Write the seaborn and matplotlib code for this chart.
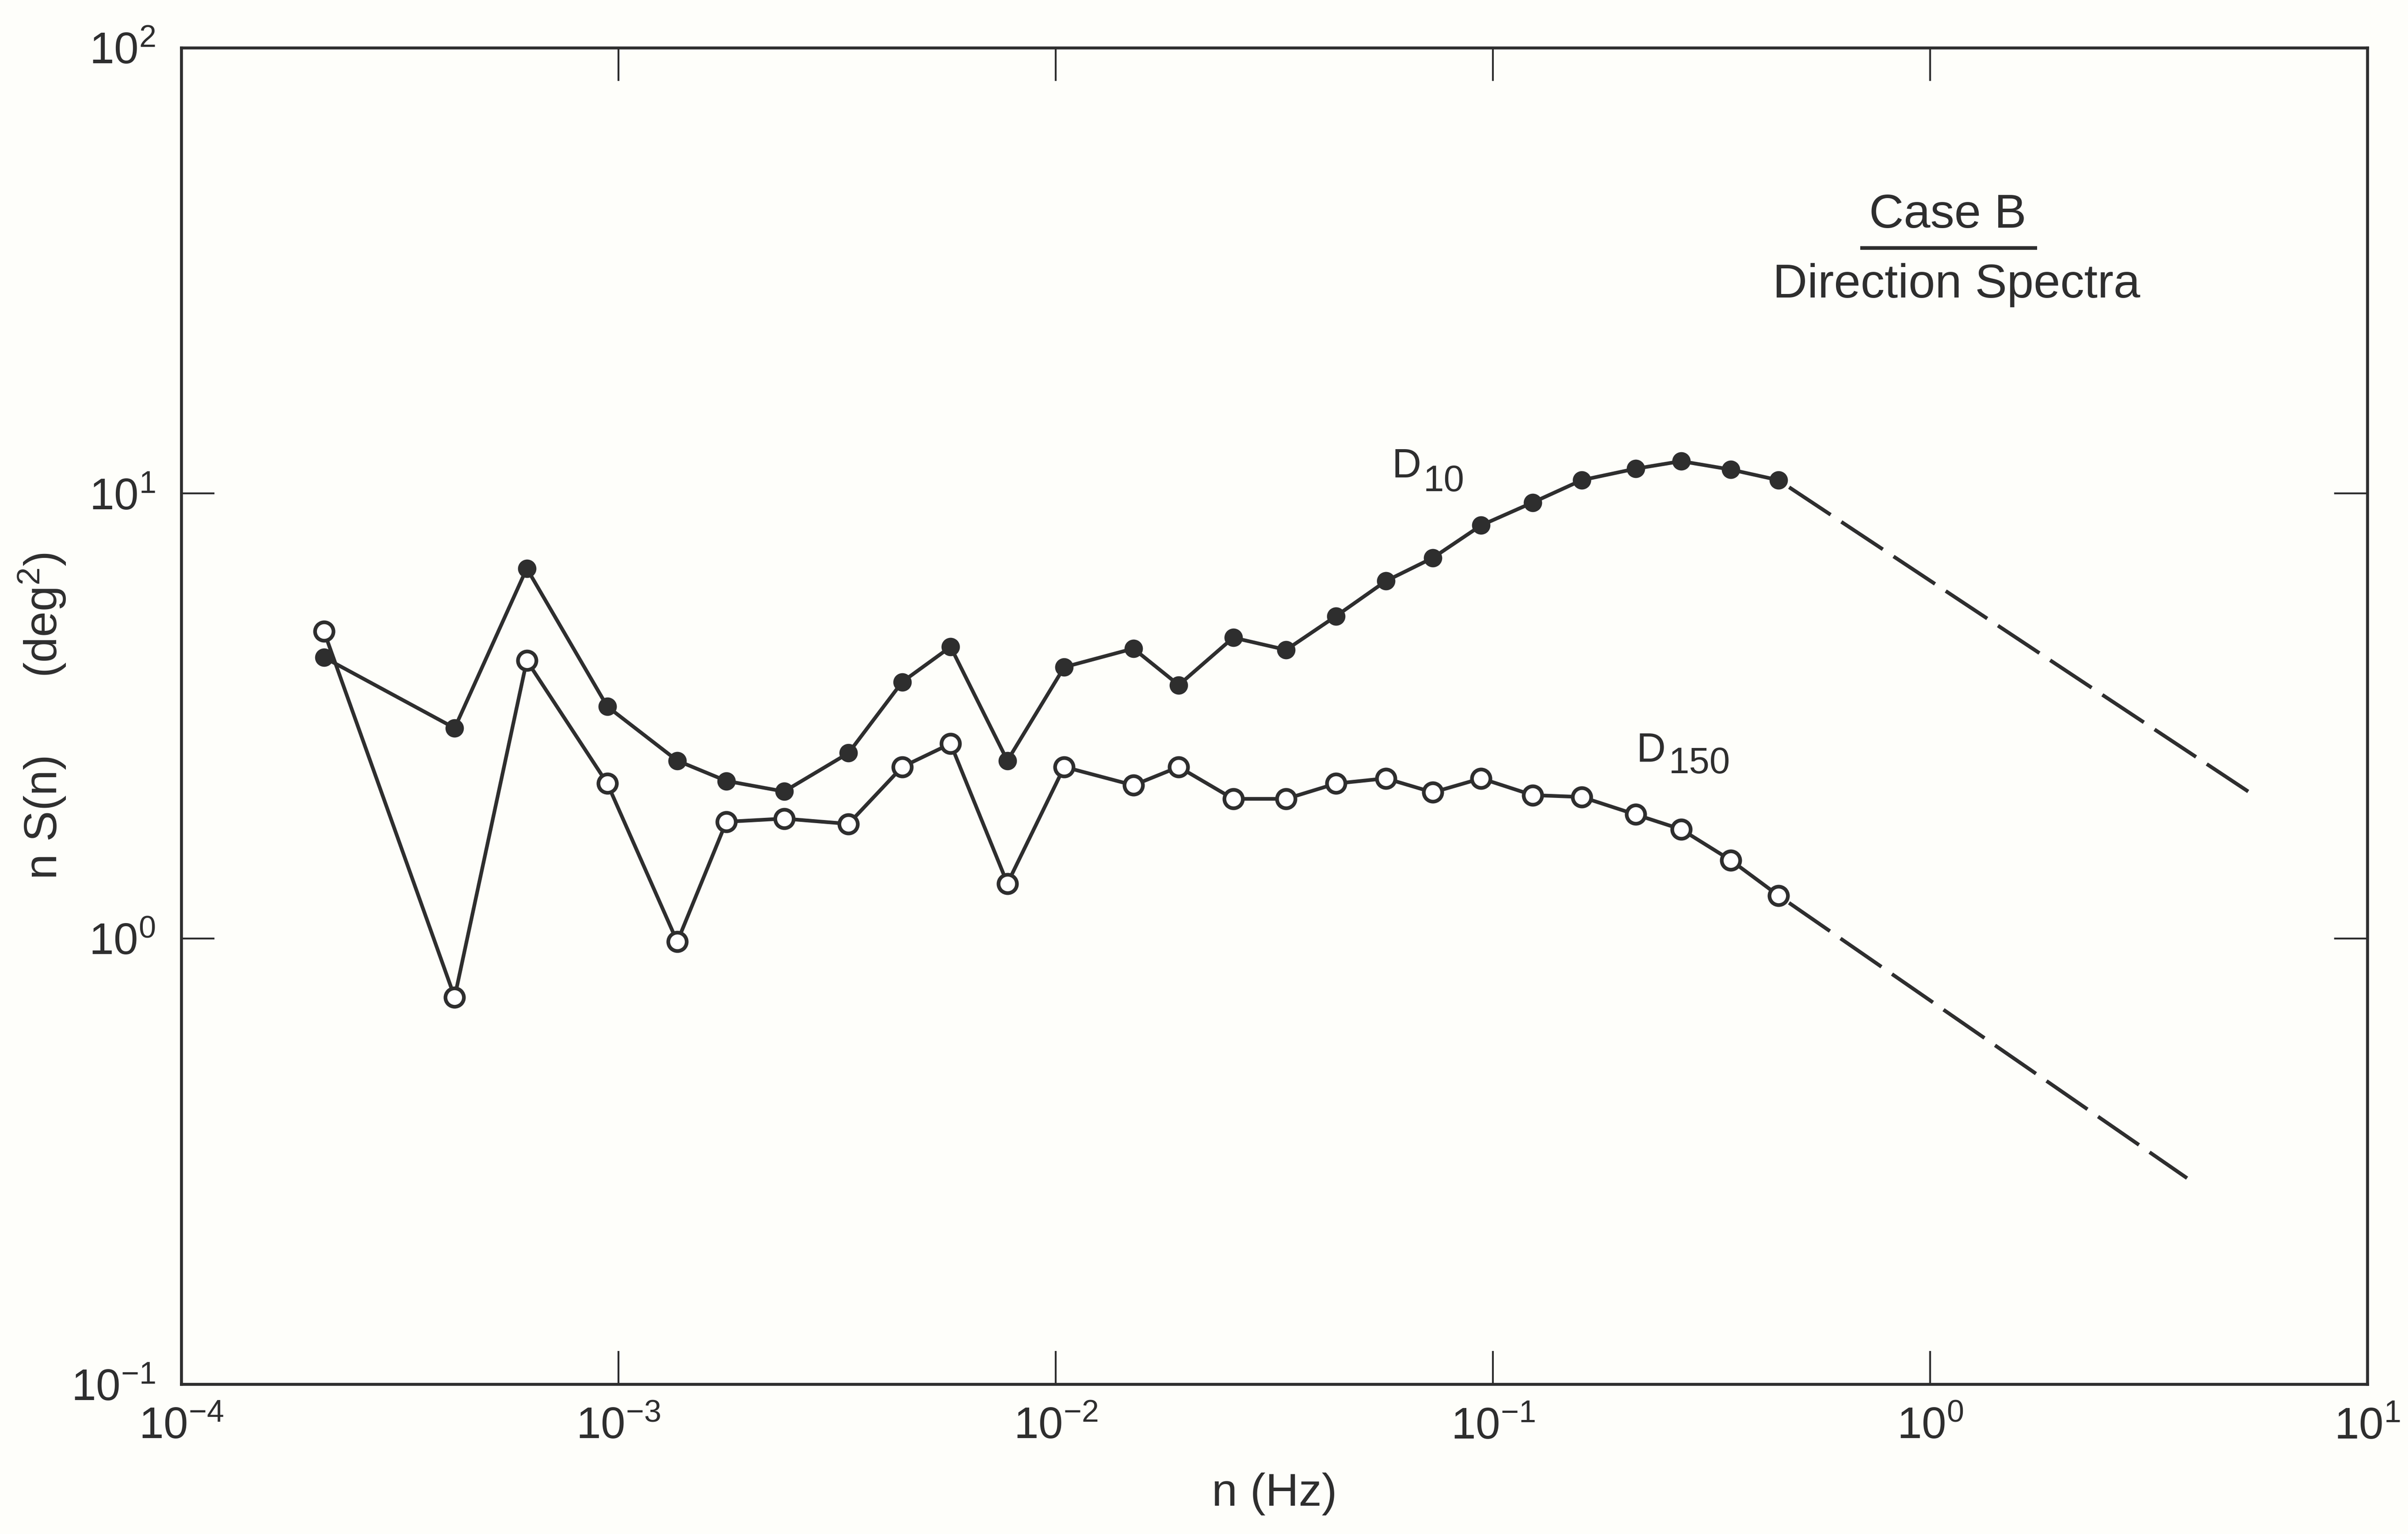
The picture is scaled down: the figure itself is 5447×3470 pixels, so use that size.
import numpy as np
import pandas as pd
import matplotlib
matplotlib.use("Agg")
import matplotlib.pyplot as plt
import matplotlib.ticker as mticker
import seaborn as sns

# ---------------- data ----------------
freq_hz = [2.12e-4, 4.22e-4, 6.17e-4, 9.43e-4, 1.363e-3, 1.765e-3, 2.392e-3,
           3.358e-3, 4.457e-3, 5.75e-3, 7.755e-3, 1.046e-2, 1.506e-2, 1.912e-2,
           2.547e-2, 3.366e-2, 4.38e-2, 5.69e-2, 7.29e-2, 9.40e-2, 0.1233,
           0.1597, 0.2120, 0.2695, 0.350, 0.4498]
d10_values = [4.28, 2.97, 6.78, 3.32, 2.51, 2.26, 2.14, 2.61, 3.77, 4.52,
              2.51, 4.07, 4.48, 3.71, 4.74, 4.45, 5.30, 6.35, 7.16, 8.47,
              9.53, 10.7, 11.35, 11.8, 11.3, 10.7]
d150_values = [4.90, 0.739, 4.21, 2.23, 0.984, 1.83, 1.86, 1.81, 2.43, 2.74,
               1.33, 2.43, 2.21, 2.43, 2.06, 2.06, 2.23, 2.29, 2.13, 2.29,
               2.10, 2.08, 1.90, 1.76, 1.50, 1.25]
d10_tail_freq = [0.4498, 5.34]
d10_tail_values = [10.7, 2.14]
d150_tail_freq = [0.4498, 3.87]
d150_tail_values = [1.25, 0.29]
x_ticks = [1e-4, 1e-3, 1e-2, 1e-1, 1e0, 1e1]
y_ticks = [1e-1, 1e0, 1e1, 1e2]

# ---------------- style ----------------
sns.set_theme(style="ticks")
plt.rcParams['font.family'] = ['Liberation Sans', 'DejaVu Sans']
plt.rcParams['mathtext.fontset'] = 'custom'
plt.rcParams['mathtext.rm'] = 'Liberation Sans'
plt.rcParams['mathtext.it'] = 'Liberation Sans:italic'
plt.rcParams['mathtext.bf'] = 'Liberation Sans:bold'

ink = '#2e2e2e'
bg = '#fefefa'

W, H = 5447, 3470
fig = plt.figure(figsize=(W / 300, H / 300), dpi=300, facecolor=bg)
ax = fig.add_axes([410 / W, 1 - 3131 / H, 4945 / W, 3023 / H])
ax.set_facecolor(bg)

df = pd.DataFrame({'freq': freq_hz, 'D10': d10_values, 'D150': d150_values})

# dashed -2/3 extrapolations
dash_style = (13.5, (13.5, 3.5))
sns.lineplot(x=d10_tail_freq, y=d10_tail_values, ax=ax, color=ink, lw=2.0,
             linestyle=dash_style, estimator=None, zorder=1)
sns.lineplot(x=d150_tail_freq, y=d150_tail_values, ax=ax, color=ink, lw=2.0,
             linestyle=dash_style, estimator=None, zorder=1)

# measured spectra
sns.lineplot(data=df, x='freq', y='D10', ax=ax, color=ink, lw=2.0,
             marker='o', markersize=9.0, markerfacecolor=ink,
             markeredgecolor=ink, markeredgewidth=1.0, estimator=None, zorder=3)
sns.lineplot(data=df, x='freq', y='D150', ax=ax, color=ink, lw=2.0,
             marker='o', markersize=10.0, markerfacecolor='white',
             markeredgecolor=ink, markeredgewidth=2.0, estimator=None, zorder=3)

# ---------------- axes ----------------
ax.set_xscale('log')
ax.set_yscale('log')
ax.set_xlim(1e-4, 1e1)
ax.set_ylim(1e-1, 1e2)

def pow_fmt(v, pos):
    return r'$\mathregular{10^{%d}}$' % int(round(np.log10(v)))

for axis, ticks in ((ax.xaxis, x_ticks), (ax.yaxis, y_ticks)):
    axis.set_major_locator(mticker.FixedLocator(ticks))
    axis.set_minor_locator(mticker.NullLocator())
    axis.set_major_formatter(mticker.FuncFormatter(pow_fmt))

ax.tick_params(which='major', direction='in', length=18, width=1.0,
               top=True, right=True, labelsize=24, pad=12,
               color=ink, labelcolor=ink)
ax.tick_params(axis='y', pad=14)
for sp in ax.spines.values():
    sp.set_color(ink)
    sp.set_linewidth(1.6)

ax.set_xlabel('n (Hz)', fontsize=25, color=ink, va='top')
ax.xaxis.set_label_coords(0.5, -0.066)
ax.set_ylabel('n S(n)      (deg$^{2}$)', fontsize=25, color=ink)
ax.yaxis.set_label_coords(-0.052, 0.50)

# ---------------- annotations ----------------
ax.text(0.808, 0.8654, 'Case B', transform=ax.transAxes, fontsize=26,
        color=ink, ha='center', va='baseline')
ax.plot([0.768, 0.849], [0.850, 0.850], transform=ax.transAxes,
        color=ink, lw=2.0, solid_capstyle='butt')
ax.text(0.812, 0.8131, 'Direction Spectra', transform=ax.transAxes,
        fontsize=26, color=ink, ha='center', va='baseline')

ax.text(0.5537, 0.6785, 'D', transform=ax.transAxes, fontsize=22,
        color=ink, ha='left', va='baseline')
ax.text(0.5682, 0.6683, '10', transform=ax.transAxes, fontsize=20,
        color=ink, ha='left', va='baseline')
ax.text(0.6657, 0.4658, 'D', transform=ax.transAxes, fontsize=22,
        color=ink, ha='left', va='baseline')
ax.text(0.6805, 0.4571, '150', transform=ax.transAxes, fontsize=20,
        color=ink, ha='left', va='baseline')

fig.savefig('out.png', dpi=300, facecolor=bg)
